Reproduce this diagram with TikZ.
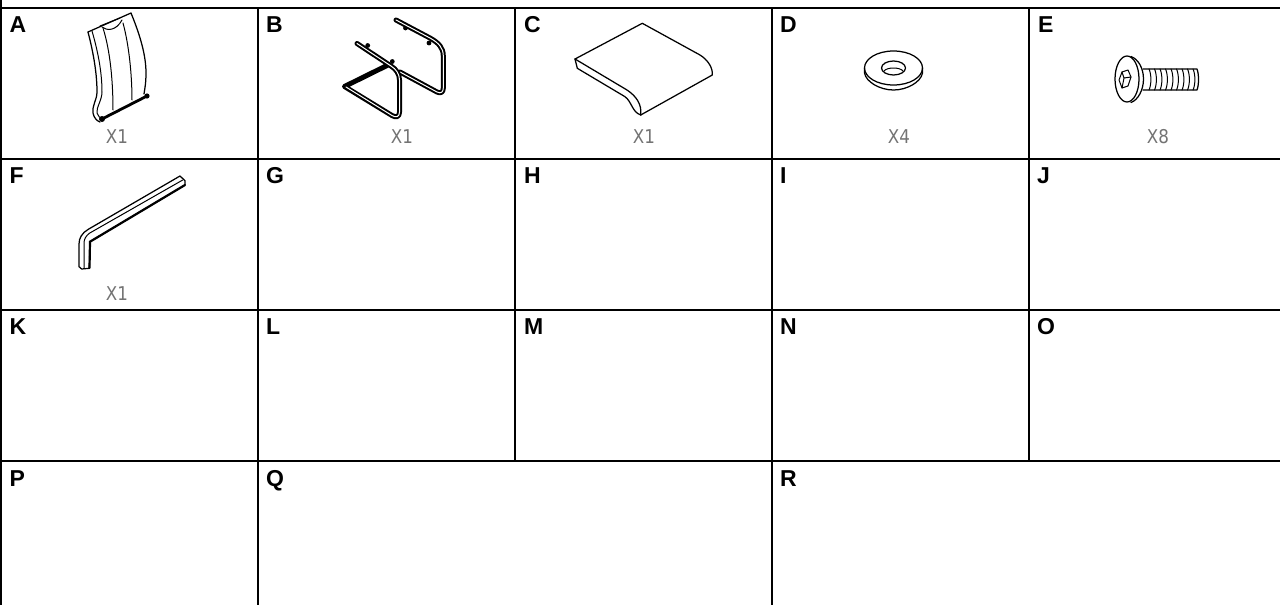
\documentclass[tikz,border=0pt]{standalone}
\usepackage{fontspec}
\setmainfont{Liberation Sans}
\newfontfamily\qtyfont{DejaVu Sans}
\tikzset{
  gridline/.style={line width=2pt,black},
  part/.style={line width=1.25pt,black,line join=round,line cap=round,fill=none},
  partthin/.style={line width=1pt,black,line join=round,line cap=round},
  heavy/.style={line width=2.8pt,black,line cap=round},
  tubeouter/.style={line width=5pt,black,line join=round,line cap=round},
  tubeinner/.style={line width=1pt,white,line join=round,line cap=round},
  letter/.style={anchor=base west,inner sep=0pt,font=\fontsize{23}{23}\selectfont\bfseries},
  qty/.style={anchor=base,inner sep=0pt,text=black!55,font=\qtyfont\fontsize{19}{19}\selectfont,xscale=0.88}
}
\begin{document}
\begin{tikzpicture}[x=1pt,y=-1pt]
\useasboundingbox (0,0) rectangle (1280,605);
% grid
\coordinate (gTL) at (0,7.8); \coordinate (gTR) at (1280,7.8);
\coordinate (r2L) at (0,159); \coordinate (r2R) at (1280,159);
\coordinate (r3L) at (0,310); \coordinate (r3R) at (1280,310);
\coordinate (r4L) at (0,461); \coordinate (r4R) at (1280,461);
\draw[gridline] (gTL)--(gTR) (r2L)--(r2R) (r3L)--(r3R) (r4L)--(r4R);
\draw[gridline] (1,0)--(1,605);
\draw[gridline] (258,7.8)--(258,605) (772,7.8)--(772,605);
\draw[gridline] (515,7.8)--(515,461) (1029,7.8)--(1029,461);
% letters
\node[letter] (la) at (9.5,32) {A};
\node[letter] (lb) at (266,32) {B};
\node[letter] (lc) at (524,32) {C};
\node[letter] (ld) at (780,32) {D};
\node[letter] (le) at (1038,32) {E};
\node[letter] (lf) at (9.5,183) {F};
\node[letter] (lg) at (266,183) {G};
\node[letter] (lh) at (524,183) {H};
\node[letter] (li) at (780,183) {I};
\node[letter] (lj) at (1037,183) {J};
\node[letter] (lk) at (9.5,334) {K};
\node[letter] (ll) at (266,334) {L};
\node[letter] (lm) at (524,334) {M};
\node[letter] (ln) at (780,334) {N};
\node[letter] (lo) at (1037,334) {O};
\node[letter] (lp) at (9.5,486) {P};
\node[letter] (lq) at (266,486) {Q};
\node[letter] (lr) at (780,486) {R};
% quantities
\node[qty] (qa) at (117,143) {X1};
\node[qty] (qb) at (402,143) {X1};
\node[qty] (qc) at (644,143) {X1};
\node[qty] (qd) at (899,143) {X4};
\node[qty] (qe) at (1158,143) {X8};
\node[qty] (qf) at (117,300) {X1};
% A backrest
\draw[part] (88,32)--(131,13) .. controls (140,35) and (146,55) .. (146,73) .. controls (146,82) and (145,88) .. (144,94);
\draw[part] (88,32) .. controls (94,55) and (97,75) .. (97,92) .. controls (97,100) and (92,105) .. (93,113) .. controls (94,118) and (97,121) .. (100,122);
\draw[partthin] (92,31) .. controls (99,55) and (102,75) .. (102,92) .. controls (102,100) and (96,108) .. (97,113) .. controls (98,116) and (100,118) .. (102,119);
\draw[partthin] (103,28) .. controls (110,50) and (113,80) .. (113,110);
\draw[partthin] (123,23) .. controls (129,45) and (132,75) .. (132,100);
\draw[partthin] (102,27) .. controls (107,31) and (116,31) .. (122,20);
\draw[partthin] (100,26)--(120,18);
\draw[heavy] (102,119)--(147,96);
\fill (147,96) circle (2.6);
\fill (102,119) circle (3);
% B frame
\fill (405.5,28) circle (2.4);
\fill (429,43) circle (2.4);
\fill (367.7,45.5) circle (2.4);
\fill (392.3,61.5) circle (2.4);
\def\backpath{(396,20)--(430,38) .. controls (439,43) and (443.3,48) .. (443.3,56)--(443.3,88) .. controls (443.3,92) and (441,94) .. (437,92)--(400,72)}
\def\frontpath{(357,43.5)--(391,66) .. controls (396,69) and (399.5,74) .. (399.5,80)--(399.5,112) .. controls (399.5,117) and (396,118) .. (392,115.5)--(344.5,86.5)--(388,65)}
\draw[tubeouter] \backpath;
\draw[tubeinner] \backpath;
\draw[tubeouter] \frontpath;
\draw[tubeinner] (357,43.5)--(391,66) .. controls (396,69) and (399.5,74) .. (399.5,80)--(399.5,112) .. controls (399.5,117) and (396,118) .. (392,115.5)--(346,87);
% C seat
\draw[part] (575,59)--(642.3,23.3)--(700,55) .. controls (708,60) and (713,68) .. (712.3,75)--(640.7,115);
\draw[part] (575,59)--(627,90) .. controls (636,96) and (642,104) .. (640.7,115);
\draw[part] (575,59)--(577.3,68.3)--(625,96.7) .. controls (632,102) and (632,112) .. (640.7,115);
% D washer
\draw[part] (893.5,68) ellipse (29 and 17);
\draw[part] (864.5,68)--(864.5,73) .. controls (866,82) and (880,90) .. (893.5,90) .. controls (907,90) and (921,82) .. (922.5,73)--(922.5,68);
\draw[part] (893.5,68) ellipse (12 and 7);
\draw[partthin] (884,71) .. controls (887,67) and (900,67) .. (903,71);
% E screw
\draw[part] (1127,79) ellipse (12 and 23);
\draw[part] (1131,56.5) .. controls (1138,59) and (1143.5,68) .. (1143.5,79) .. controls (1143.5,90) and (1138,100) .. (1131,102.5);
\draw[partthin] (1122,72)--(1128,70)--(1131,77)--(1128,86)--(1122,88)--(1119,80)--cycle;
\draw[partthin] (1122,72)--(1124,78)--(1131,77) (1124,78)--(1122,88);
\draw[part] (1143,69)--(1197,69) .. controls (1199,74) and (1199,85) .. (1197,90)--(1143,90);
\foreach \tx in {1149,1154.5,1160,1165.5,1171,1176.5,1182,1187.5,1193}
  \draw[partthin] (\tx,69) .. controls (\tx+2.5,74) and (\tx+2.5,85) .. (\tx,90);
% F key
\draw[part] (180,176)--(88.3,229.3) .. controls (82,233) and (79,238) .. (79,244)--(79,266.7)--(81.7,269)--(89.3,268.3)--(90,241.7)--(185,185)--(185,180.7)--cycle;
\draw[partthin] (182.7,180)--(89.3,233.3) .. controls (86,236) and (84,239) .. (84,243)--(84,268);
\draw[line width=2.2pt,line cap=round] (185,185)--(90,241.7)--(89.5,268);
\end{tikzpicture}
\end{document}
